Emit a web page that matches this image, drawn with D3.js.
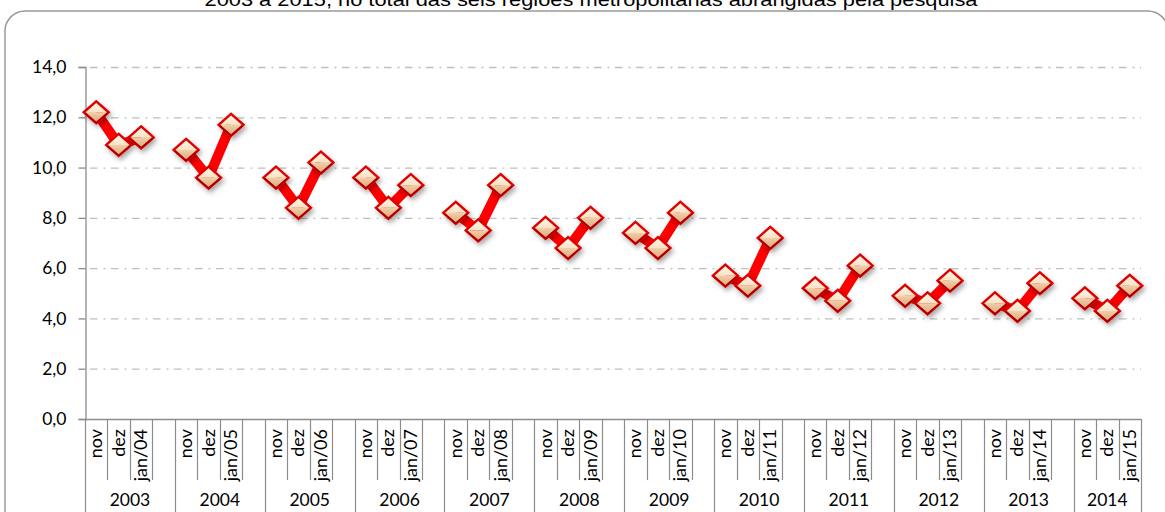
<!DOCTYPE html>
<html>
<head>
<meta charset="utf-8">
<script src="https://cdn.jsdelivr.net/npm/d3@7"></script>
<style>
  body { margin: 0; background: #fff; }
  svg { display: block; }
</style>
</head>
<body>
<svg id="chart" width="1165" height="512"></svg>
<script>
// data
const years = ["2003", "2004", "2005", "2006", "2007", "2008", "2009", "2010", "2011", "2012", "2013", "2014"];
const monthLabels = ["nov", "dez"];
const janLabels = ["jan/04", "jan/05", "jan/06", "jan/07", "jan/08", "jan/09", "jan/10", "jan/11", "jan/12", "jan/13", "jan/14", "jan/15"];
const values = [
  [12.2, 10.9, 11.2],
  [10.7, 9.6, 11.7],
  [9.6, 8.4, 10.2],
  [9.6, 8.4, 9.3],
  [8.2, 7.5, 9.3],
  [7.6, 6.8, 8.0],
  [7.4, 6.8, 8.2],
  [5.7, 5.3, 7.2],
  [5.2, 4.7, 6.1],
  [4.9, 4.6, 5.5],
  [4.6, 4.3, 5.4],
  [4.8, 4.3, 5.3]
];
const yTicks = [0, 2, 4, 6, 8, 10, 12, 14];
const title = "2003 a 2015, no total das seis regiões metropolitanas abrangidas pela pesquisa";

const svg = d3.select("#chart");
const fmt = v => d3.format(".1f")(v).replace(".", ",");
const labelFont = "Lato, Open Sans, sans-serif";

// 4 slots per year (nov, dez, jan, blank), last year without blank
const nSlots = years.length * 4 - 1;
const x = d3.scaleBand().domain(d3.range(nSlots)).range([85, 1141]).padding(0);
const y = d3.scaleLinear().domain([0, 14]).range([419, 67]);

// defs
const defs = svg.append("defs");
const gTop = defs.append("linearGradient").attr("id", "gTop").attr("x1", 0).attr("y1", 0).attr("x2", 0).attr("y2", 1);
gTop.append("stop").attr("offset", "0%").attr("stop-color", "#fffaf0");
gTop.append("stop").attr("offset", "100%").attr("stop-color", "#f7e2c4");
const gBot = defs.append("linearGradient").attr("id", "gBot").attr("x1", 0).attr("y1", 0).attr("x2", 0).attr("y2", 1);
gBot.append("stop").attr("offset", "0%").attr("stop-color", "#f0cfa8");
gBot.append("stop").attr("offset", "100%").attr("stop-color", "#dca47c");
const sh = defs.append("filter").attr("id", "shadow").attr("x", "-50%").attr("y", "-50%").attr("width", "200%").attr("height", "200%");
sh.append("feDropShadow").attr("dx", 2).attr("dy", 3).attr("stdDeviation", 2.5).attr("flood-color", "#000").attr("flood-opacity", 0.35);

// title (cut at top, as in the source)
svg.append("text")
  .attr("x", 591).attr("y", 6)
  .attr("text-anchor", "middle")
  .attr("font-family", "Liberation Sans, Arial, sans-serif")
  .attr("font-size", 18)
  .attr("textLength", 773).attr("lengthAdjust", "spacingAndGlyphs")
  .attr("fill", "#000")
  .text(title);

// frame
svg.append("rect")
  .attr("x", 5).attr("y", 11).attr("width", 1163).attr("height", 530)
  .attr("rx", 20).attr("ry", 20)
  .attr("fill", "none").attr("stroke", "#9a9a9a").attr("stroke-width", 1.5);

// grid
svg.append("g").selectAll("line").data(yTicks.filter(d => d > 0)).join("line")
  .attr("x1", 86).attr("x2", 1141)
  .attr("y1", d => y(d) + 0.5).attr("y2", d => y(d) + 0.5)
  .attr("stroke", "#bfbfbf").attr("stroke-width", 1.3)
  .attr("stroke-dasharray", "7.5,6,2,5.5")
  .attr("stroke-dashoffset", -4);

// y axis
const yAxis = svg.append("g")
  .attr("transform", "translate(85.5,0)")
  .call(d3.axisLeft(y).tickValues(yTicks).tickFormat(fmt).tickSize(7).tickPadding(12));
yAxis.select(".domain").attr("stroke", "#8c8c8c").attr("stroke-width", 1.3);
yAxis.selectAll(".tick line").attr("stroke", "#8c8c8c").attr("stroke-width", 1.3);
yAxis.selectAll(".tick text")
  .attr("font-family", labelFont)
  .attr("font-size", 17.5).attr("fill", "#000");

// x axis baseline
svg.append("line")
  .attr("x1", 85).attr("x2", 1141).attr("y1", 419.5).attr("y2", 419.5)
  .attr("stroke", "#8c8c8c").attr("stroke-width", 1.3);

// slot dividers
const slotEdges = d3.range(1, nSlots).filter(i => i % 4 !== 0);
svg.append("g").selectAll("line").data(slotEdges).join("line")
  .attr("x1", i => Math.round(x(i)) + 0.5).attr("x2", i => Math.round(x(i)) + 0.5)
  .attr("y1", 419).attr("y2", 480)
  .attr("stroke", "#8c8c8c").attr("stroke-width", 1.2);

// year dividers
const yearEdges = d3.range(0, nSlots + 1, 4).concat([nSlots]);
svg.append("g").selectAll("line").data(yearEdges).join("line")
  .attr("x1", i => Math.round(i === nSlots ? 1141 : x(i)) + 0.5)
  .attr("x2", i => Math.round(i === nSlots ? 1141 : x(i)) + 0.5)
  .attr("y1", 419).attr("y2", 512)
  .attr("stroke", "#8c8c8c").attr("stroke-width", 1.2);

// month labels
const labels = [];
years.forEach((yr, gi) => {
  monthLabels.concat([janLabels[gi]]).forEach((lab, mi) => labels.push({ slot: gi * 4 + mi, lab }));
});
svg.append("g").selectAll("text").data(labels).join("text")
  .attr("transform", d => `translate(${x(d.slot) + x.bandwidth() / 2 + 6},429) rotate(-90)`)
  .attr("text-anchor", "end")
  .attr("font-family", labelFont)
  .attr("font-size", 18).attr("fill", "#000")
  .text(d => d.lab);

// year labels
svg.append("g").selectAll("text").data(years).join("text")
  .attr("x", (d, i) => {
    const a = x(i * 4);
    const b = i === years.length - 1 ? 1141 : x(i * 4 + 3) + x.bandwidth();
    return (a + b) / 2;
  })
  .attr("y", 506)
  .attr("text-anchor", "middle")
  .attr("font-family", labelFont)
  .attr("font-size", 17.5).attr("fill", "#000")
  .text(d => d);

// lines per year
const line = d3.line()
  .x(d => x(d.slot) + x.bandwidth() / 2)
  .y(d => y(d.v));
const series = values.map((vals, gi) => vals.map((v, mi) => ({ slot: gi * 4 + mi, v })));
svg.append("g").selectAll("path").data(series).join("path")
  .attr("d", line)
  .attr("fill", "none")
  .attr("stroke", "#ff0000")
  .attr("stroke-width", 10)
  .attr("stroke-linejoin", "miter");

// markers
const hw = 12.5, hh = 11;
const pts = series.flat();
const mk = svg.append("g").selectAll("g").data(pts).join("g")
  .attr("transform", d => `translate(${x(d.slot) + x.bandwidth() / 2},${y(d.v)})`)
  .attr("filter", "url(#shadow)");
mk.append("path")
  .attr("d", `M${-hw},0 L0,${-hh} L${hw},0 Z`)
  .attr("fill", "url(#gTop)");
mk.append("path")
  .attr("d", `M${-hw},0 L${hw},0 L0,${hh} Z`)
  .attr("fill", "url(#gBot)");
mk.append("path")
  .attr("d", `M${-hw},0 L0,${-hh} L${hw},0 L0,${hh} Z`)
  .attr("fill", "none")
  .attr("stroke", "#e00000")
  .attr("stroke-width", 2.4)
  .attr("stroke-linejoin", "miter");
mk.append("path")
  .attr("d", `M${-hw + 1},1 L0,${hh - 0.5} L${hw - 1},1`)
  .attr("fill", "none")
  .attr("stroke", "#a00000")
  .attr("stroke-width", 1.4);
</script>
</body>
</html>
